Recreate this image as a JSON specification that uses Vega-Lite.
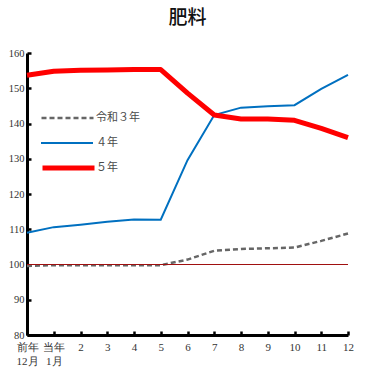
{
  "$schema": "https://vega.github.io/schema/vega-lite/v6.json",
  "autosize": {"type": "none"},
  "padding": {"left": 27, "top": 53, "right": 24, "bottom": 37},
  "width": 321,
  "height": 282,
  "background": "white",
  "title": {"text": "肥料", "font": "Noto Sans CJK JP", "fontSize": 19, "fontWeight": 500, "anchor": "middle", "offset": 20, "color": "#111"},
  "config": {
    "view": {"stroke": null},
    "axis": {"grid": false, "title": null, "domainColor": "#000", "domainWidth": 3, "tickColor": "#000", "tickWidth": 2.5, "tickSize": -4,
      "labelFont": "Liberation Serif", "labelColor": "#333", "labelFlush": false, "labelOverlap": false},
    "axisX": {"labelFontSize": 11, "labelPadding": 10, "labelLineHeight": 14},
    "axisY": {"labelFontSize": 10.5, "labelPadding": 7},
    "legend": {"title": null, "orient": "none", "legendX": 13, "symbolType": "stroke", "symbolSize": 2704, "clipHeight": 20,
      "labelFont": "Noto Sans CJK JP", "labelFontSize": 11, "labelColor": "#4a4a4a"}
  },
  "data": {"values": [
    {"i": 0, "s": "令和３年", "v": 99.6},
    {"i": 1, "s": "令和３年", "v": 99.8},
    {"i": 2, "s": "令和３年", "v": 99.8},
    {"i": 3, "s": "令和３年", "v": 99.8},
    {"i": 4, "s": "令和３年", "v": 99.8},
    {"i": 5, "s": "令和３年", "v": 99.8},
    {"i": 6, "s": "令和３年", "v": 101.4},
    {"i": 7, "s": "令和３年", "v": 103.9},
    {"i": 8, "s": "令和３年", "v": 104.4},
    {"i": 9, "s": "令和３年", "v": 104.6},
    {"i": 10, "s": "令和３年", "v": 104.8},
    {"i": 11, "s": "令和３年", "v": 106.7},
    {"i": 12, "s": "令和３年", "v": 108.8},
    {"i": 0, "s": "４年", "v": 109.0},
    {"i": 1, "s": "４年", "v": 110.6},
    {"i": 2, "s": "４年", "v": 111.3},
    {"i": 3, "s": "４年", "v": 112.1},
    {"i": 4, "s": "４年", "v": 112.8},
    {"i": 5, "s": "４年", "v": 112.7},
    {"i": 6, "s": "４年", "v": 129.6},
    {"i": 7, "s": "４年", "v": 142.4},
    {"i": 8, "s": "４年", "v": 144.5},
    {"i": 9, "s": "４年", "v": 144.9},
    {"i": 10, "s": "４年", "v": 145.2},
    {"i": 11, "s": "４年", "v": 149.8},
    {"i": 12, "s": "４年", "v": 153.8},
    {"i": 0, "s": "５年", "v": 153.7},
    {"i": 1, "s": "５年", "v": 154.8},
    {"i": 2, "s": "５年", "v": 155.1},
    {"i": 3, "s": "５年", "v": 155.2},
    {"i": 4, "s": "５年", "v": 155.3},
    {"i": 5, "s": "５年", "v": 155.3},
    {"i": 6, "s": "５年", "v": 148.6},
    {"i": 7, "s": "５年", "v": 142.4},
    {"i": 8, "s": "５年", "v": 141.3},
    {"i": 9, "s": "５年", "v": 141.3},
    {"i": 10, "s": "５年", "v": 140.9},
    {"i": 11, "s": "５年", "v": 138.6},
    {"i": 12, "s": "５年", "v": 136.0}
  ]},
  "encoding": {
    "x": {"field": "i", "type": "quantitative", "scale": {"domain": [0, 12], "nice": false},
      "axis": {"values": [0,1,2,3,4,5,6,7,8,9,10,11,12],
        "labelExpr": "datum.value == 0 ? ['前年', '12月'] : datum.value == 1 ? ['当年', ' 1月'] : datum.label"}},
    "y": {"field": "v", "type": "quantitative", "scale": {"domain": [80, 160], "nice": false, "zero": false},
      "axis": {"values": [80,90,100,110,120,130,140,150,160]}}
  },
  "layer": [
    {
      "transform": [{"filter": "datum.s == '令和３年'"}],
      "mark": {"type": "line", "strokeWidth": 2.5, "strokeDash": [5, 3]},
      "encoding": {"color": {"field": "s", "type": "nominal",
        "scale": {"domain": ["令和３年"], "range": ["#666666"]},
        "legend": {"legendY": 55, "symbolStrokeWidth": 2.5, "symbolDash": [5, 3], "labelOffset": 1}}}
    },
    {
      "transform": [{"filter": "datum.s == '４年'"}],
      "mark": {"type": "line", "strokeWidth": 2},
      "encoding": {"color": {"field": "s", "type": "nominal",
        "scale": {"domain": ["４年"], "range": ["#0070c0"]},
        "legend": {"legendY": 80, "symbolStrokeWidth": 2, "labelOffset": 2}}}
    },
    {
      "transform": [{"filter": "datum.s == '５年'"}],
      "mark": {"type": "line", "strokeWidth": 5, "strokeJoin": "round"},
      "encoding": {"color": {"field": "s", "type": "nominal",
        "scale": {"domain": ["５年"], "range": ["#ff0000"]},
        "legend": {"legendY": 105, "symbolStrokeWidth": 5, "labelOffset": -1}}}
    },
    {
      "mark": {"type": "rule", "color": "#a01010", "strokeWidth": 1},
      "encoding": {"y": {"datum": 100, "type": "quantitative"}, "x": null}
    }
  ],
  "resolve": {"scale": {"color": "independent"}, "legend": {"color": "independent"}}
}
